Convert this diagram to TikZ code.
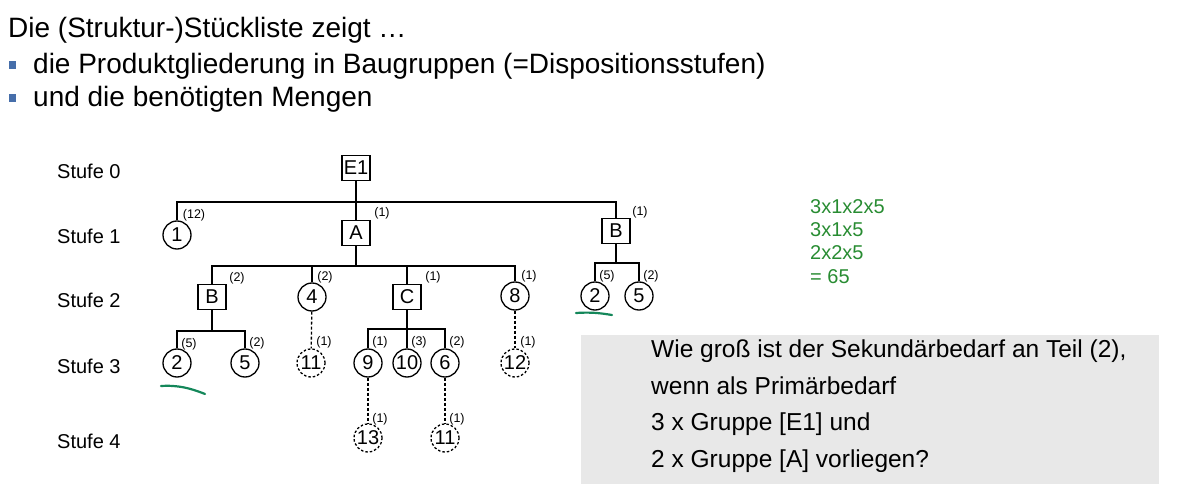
\documentclass[tikz,border=0pt]{standalone}
\usepackage{fontspec}
\setmainfont{Liberation Sans}
\definecolor{bulletblue}{RGB}{70,110,170}
\definecolor{calcgreen}{RGB}{40,140,50}
\definecolor{markgreen}{RGB}{20,135,90}
\definecolor{boxgray}{RGB}{232,232,232}
\begin{document}
\begin{tikzpicture}[x=1pt,y=-1pt,
  every node/.style={inner sep=0pt},
  title/.style={anchor=base west,font=\fontsize{28}{28}\selectfont},
  bullet/.style={fill=bulletblue,minimum width=7,minimum height=8},
  stufe/.style={anchor=west,font=\fontsize{20}{20}\selectfont},
  grp/.style={draw,line width=1.3pt,minimum width=28,minimum height=25,font=\fontsize{20}{20}\selectfont},
  part/.style={draw,circle,line width=1.3pt,minimum size=28,font=\fontsize{20}{20}\selectfont},
  dpart/.style={part,dash pattern=on 2.5pt off 2pt},
  qty/.style={font=\fontsize{12.5}{12.5}\selectfont},
  link/.style={line width=1.3pt},
  dlink/.style={line width=1.3pt,dash pattern=on 3pt off 2pt},
  calc/.style={anchor=west,text=calcgreen,font=\fontsize{20}{20}\selectfont},
  question/.style={anchor=base west,font=\fontsize{24.5}{24.5}\selectfont},
  handmark/.style={draw=markgreen,line width=2.2pt,line cap=round}
]
\useasboundingbox (0,0) rectangle (1183,494);

% heading
\node[title] (t1) at (8,37.5) {Die (Struktur-)Stückliste zeigt …};
\node[bullet] (b2) at (12.5,65) {};
\node[title] (t2) at (33,74) {die Produktgliederung in Baugruppen (=Dispositionsstufen)};
\node[bullet] (b3) at (12.5,98) {};
\node[title] (t3) at (33,107) {und die benötigten Mengen};

% level labels
\node[stufe] (s0) at (57,171) {Stufe 0};
\node[stufe] (s1) at (57,236) {Stufe 1};
\node[stufe] (s2) at (57,300) {Stufe 2};
\node[stufe] (s3) at (57,366) {Stufe 3};
\node[stufe] (s4) at (57,441) {Stufe 4};

% nodes
\node[grp] (E1) at (356,168) {E1};
\node[part] (n1) at (177,235) {1};
\node[grp] (A) at (356,233) {A};
\node[grp] (B1) at (616,231) {B};
\node[grp] (B2) at (212,297) {B};
\node[part] (n4) at (312,297) {4};
\node[grp] (C) at (407,297) {C};
\node[part] (n8) at (515,296) {8};
\node[part] (n2a) at (595,296) {2};
\node[part] (n5a) at (639,296) {5};
\node[part] (n2b) at (177,363) {2};
\node[part] (n5b) at (245,363) {5};
\node[dpart] (n11a) at (311,363) {11};
\node[part] (n9) at (368,363) {9};
\node[part] (n10) at (407,363) {10};
\node[part] (n6) at (445,363) {6};
\node[dpart] (n12) at (515,363) {12};
\node[dpart] (n13) at (368,438) {13};
\node[dpart] (n11b) at (445,438) {11};

% bars
\coordinate (bar1) at (356,202);
\coordinate (bar2) at (356,266);
\coordinate (bar3) at (616,263);
\coordinate (bar4) at (212,331);
\coordinate (bar5) at (407,329);

\draw[link] (E1) -- (A);
\draw[link] (n1) |- (bar1) -| (B1);
\draw[link] (A) -- (bar2);
\draw[link] (B2) |- (bar2) -| (n8);
\draw[link] (n4) -- (n4 |- bar2);
\draw[link] (C) -- (C |- bar2);
\draw[link] (B1) -- (bar3);
\draw[link] (n2a) |- (bar3) -| (n5a);
\draw[link] (B2) -- (bar4);
\draw[link] (n2b) |- (bar4) -| (n5b);
\draw[link] (C) -- (n10);
\draw[link] (n9) |- (bar5) -| (n6);
\draw[dlink] (n4) -- (n11a);
\draw[dlink] (n8) -- (n12);
\draw[dlink] (n9) -- (n13);
\draw[dlink] (n6) -- (n11b);

% quantities
\node[qty] (q1) at (194,215) {(12)};
\node[qty] (qA) at (382,213) {(1)};
\node[qty] (qB1) at (640,212) {(1)};
\node[qty] (qB2) at (237,278) {(2)};
\node[qty] (q4) at (325,277) {(2)};
\node[qty] (qC) at (433,277) {(1)};
\node[qty] (q8) at (529,276) {(1)};
\node[qty] (q2a) at (607,276) {(5)};
\node[qty] (q5a) at (651,276) {(2)};
\node[qty] (q2b) at (189,344) {(5)};
\node[qty] (q5b) at (257,343) {(2)};
\node[qty] (q11a) at (324,342) {(1)};
\node[qty] (q9) at (380,342) {(1)};
\node[qty] (q10) at (419,342) {(3)};
\node[qty] (q6) at (457,342) {(2)};
\node[qty] (q12) at (528,342) {(1)};
\node[qty] (q13) at (380,419) {(1)};
\node[qty] (q11b) at (457,419) {(1)};

% green calculation
\node[calc] (c1) at (810,207) {3x1x2x5};
\node[calc] (c2) at (810,230) {3x1x5};
\node[calc] (c3) at (810,253) {2x2x5};
\node[calc] (c4) at (810,277) {= 65};

% hand marks
\draw[handmark] (576,313) .. controls (590,312) and (600,313) .. (612,315);
\draw[handmark] (161,386) .. controls (178,385) and (190,388) .. (205,394);

% question box
\fill[boxgray] (581,335) rectangle (1159,484);
\node[question] (w1) at (651,357) {Wie groß ist der Sekundärbedarf an Teil (2),};
\node[question] (w2) at (651,394) {wenn als Primärbedarf};
\node[question] (w3) at (651,430.5) {3 x Gruppe [E1] und};
\node[question] (w4) at (651,467) {2 x Gruppe [A] vorliegen?};
\end{tikzpicture}
\end{document}
